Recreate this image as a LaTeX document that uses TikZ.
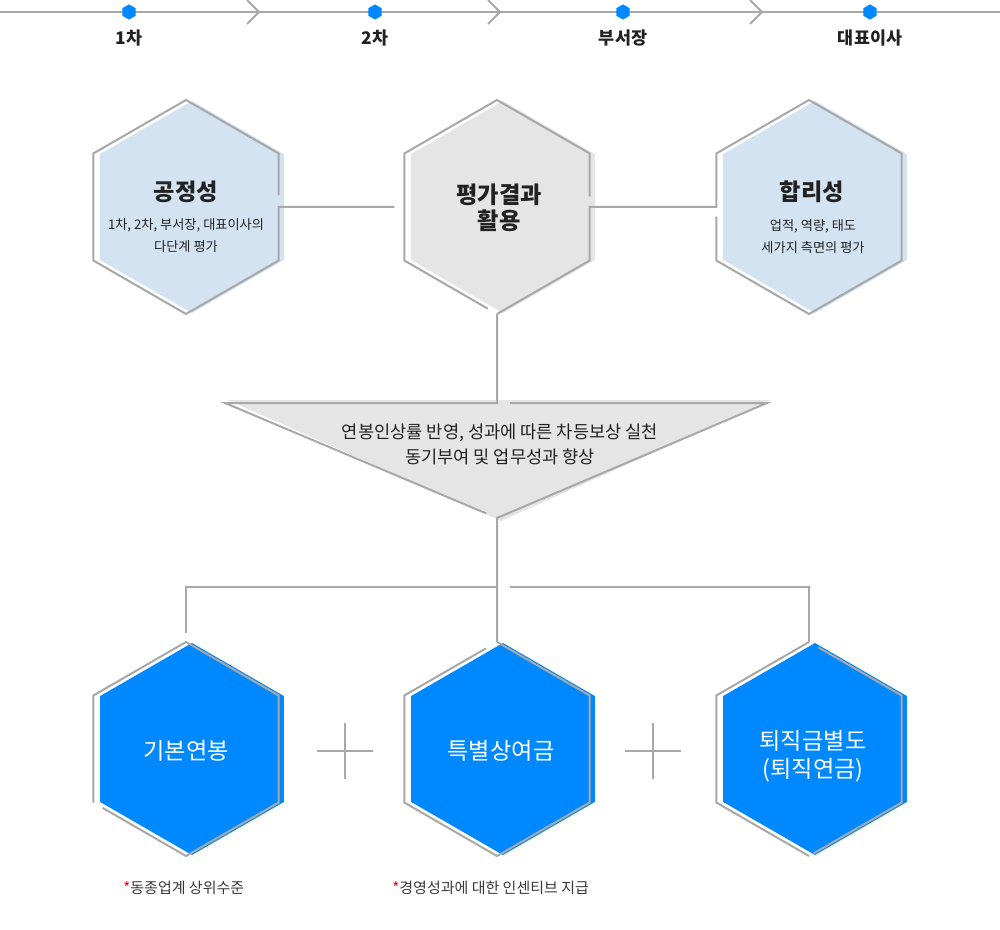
\documentclass[tikz,border=0pt]{standalone}
\usepackage{fontspec}
\setmainfont{Noto Sans CJK KR}
\usetikzlibrary{calc,shapes.geometric}
\definecolor{lineg}{RGB}{168,168,168}
\definecolor{hexblue}{RGB}{0,136,255}
\definecolor{paleblue}{RGB}{211,227,242}
\definecolor{paleg}{RGB}{229,229,229}
\definecolor{txt}{RGB}{34,34,34}
\definecolor{starred}{RGB}{230,0,18}
\tikzset{
  tline/.style={line width=1pt,lineg},
  outl/.style={line width=1pt,lineg},
  stepdot/.style={regular polygon,regular polygon sides=6,shape border rotate=30,
    fill=hexblue,inner sep=0pt,minimum size=7.6pt},
  steplbl/.style={font=\fontsize{8.7}{10}\selectfont\bfseries,text=txt},
  ttl/.style={font=\fontsize{11.6}{13}\selectfont\bfseries,text=txt,align=center},
  subtxt/.style={font=\fontsize{6.6}{11}\selectfont,text=txt,align=center},
  tritxt/.style={font=\fontsize{8.8}{12.5}\selectfont,text=txt,align=center},
  paytxt/.style={font=\fontsize{11.6}{14}\selectfont,text=white,align=center},
  note/.style={font=\fontsize{7.5}{8}\selectfont,text=txt!90,anchor=west,inner sep=0pt},
  % ---- hexagon: offset fill + outline corners ----
  pics/hexcell/.style={code={
    \fill[#1,shift={(6,0)}] (90:106) -- (30:106) -- (-30:106) -- (-90:106)
      -- (210:106) -- (150:106) -- cycle;
    \coordinate (-t) at (-90:107);
    \coordinate (-ur) at (-30:107);
    \coordinate (-lr) at (30:107);
    \coordinate (-b) at (90:107);
    \coordinate (-ll) at (150:107);
    \coordinate (-ul) at (210:107);
    \coordinate (-e) at (0:92.7);
    \coordinate (-w) at (180:92.7);
  }},
}

\begin{document}
\begin{tikzpicture}[x=0.5pt,y=-0.5pt]
  \useasboundingbox (0,0) rectangle (1000,930);
  % timeline
  \draw[tline] (0,12) -- (1000,12);
  \foreach \x in {259,500,762}
    \draw[tline] (\x-12,0) -- (\x,12) -- (\x-12,24);
  \foreach \x/\nm/\lbl in {129/s1/1차, 375/s2/2차, 623/s3/부서장, 870/s4/대표이사}{
    \node[stepdot] (\nm) at (\x,12) {};
    \node[steplbl] (\nm-l) at (\x,38) {\lbl};
  }

  % hexagons
  \pic (fair) at (186,207) {hexcell=paleblue};
  \pic (eval) at (497,207) {hexcell=paleg};
  \pic (reas) at (809,207) {hexcell=paleblue};
  \pic (base) at (186,749) {hexcell=hexblue};
  \pic (bonus) at (497,749) {hexcell=hexblue};
  \pic (retire) at (809,749) {hexcell=hexblue};

  % triangle
  \coordinate (tri-l) at (225,403);
  \coordinate (tri-r) at (767,403);
  \coordinate (tri-b) at (497,518);
  \coordinate (bus) at (497,587);
  \fill[paleg] (228,400) -- (771,400) -- (501,521) -- cycle;

  % outlines and connectors
  \draw[outl] ($(fair-ur)!.78!(fair-e)$) -- (fair-ur) -- (fair-t) -- (fair-ul) -- (fair-ll)
    -- (fair-b) -- (fair-lr) -- (fair-e) -- ($(eval-w)+(-10,0)$);
  \draw[outl] ($(eval-ur)!.8!(eval-e)$) -- (eval-ur) -- (eval-t) -- (eval-ul) -- (eval-ll)
    -- ($(eval-ll)!.9!(eval-b)$);
  \draw[outl] (eval-b) -- (eval-lr) -- (eval-e) -- (reas-w) -- (reas-ul) -- (reas-t)
    -- (reas-ur) -- (reas-lr) -- (reas-b) -- (reas-ll) -- ($(reas-w)!.18!(reas-ll)$);
  \draw[outl] (eval-b) -- (eval-b |- tri-l) -- (tri-l) -- ($(tri-l)!.96!(tri-b)$);
  \draw[outl] ($(eval-b |- tri-r)+(13,0)$) -- (tri-r) -- (tri-b) -- (bonus-t);
  \draw[outl] (bus) -| ($(base-t)+(0,-9)$);
  \draw[outl] ($(bus)+(13,0)$) -| (retire-t);
  \draw[outl] (base-ll) -- (base-ul) -- (base-t) -- (base-ur) -- (base-lr) -- (base-b)
    -- ($(base-b)!.9!(base-ll)$);
  \draw[outl] ($(bonus-ul)!.88!(bonus-t)$) -- (bonus-ul) -- (bonus-ll) -- (bonus-b)
    -- (bonus-lr) -- (bonus-ur) -- (bonus-t);
  \draw[outl] ($(retire-t)!.1!(retire-ur)$) -- (retire-ur) -- (retire-lr)
    -- ($(retire-lr)!.95!(retire-b)$);
  \draw[outl] (retire-t) -- (retire-ul) -- (retire-ll) -- (retire-b);

  % plus signs
  \coordinate (plusA) at (345,751);
  \coordinate (plusB) at (653,751);
  \foreach \p in {plusA,plusB}
    \draw[outl] ($(\p)+(-28,0)$) -- ($(\p)+(28,0)$) ($(\p)+(0,-28)$) -- ($(\p)+(0,28)$);

  % texts
  \node[ttl] (fair-h) at (186,192) {공정성};
  \node[subtxt] (fair-s) at (186,236) {1차, 2차, 부서장, 대표이사의\\다단계 평가};
  \node[ttl] (eval-h) at (499,208) {평가결과\\활용};
  \node[ttl] (reas-h) at (812,192) {합리성};
  \node[subtxt] (reas-s) at (813,237) {업적, 역량, 태도\\세가지 측면의 평가};
  \node[tritxt] (tri-s) at (500,444) {연봉인상률 반영, 성과에 따른 차등보상 실천\\동기부여 및 업무성과 향상};
  \node[paytxt] (base-h) at (186,751) {기본연봉};
  \node[paytxt] (bonus-h) at (501,751) {특별상여금};
  \node[paytxt] (retire-h) at (813,756) {퇴직금별도\\(퇴직연금)};
  \node[note] (base-n) at (123,888) {\textcolor{starred}{*}동종업계 상위수준};
  \node[note] (bonus-n) at (392,888) {\textcolor{starred}{*}경영성과에 대한 인센티브 지급};
\end{tikzpicture}
\end{document}
